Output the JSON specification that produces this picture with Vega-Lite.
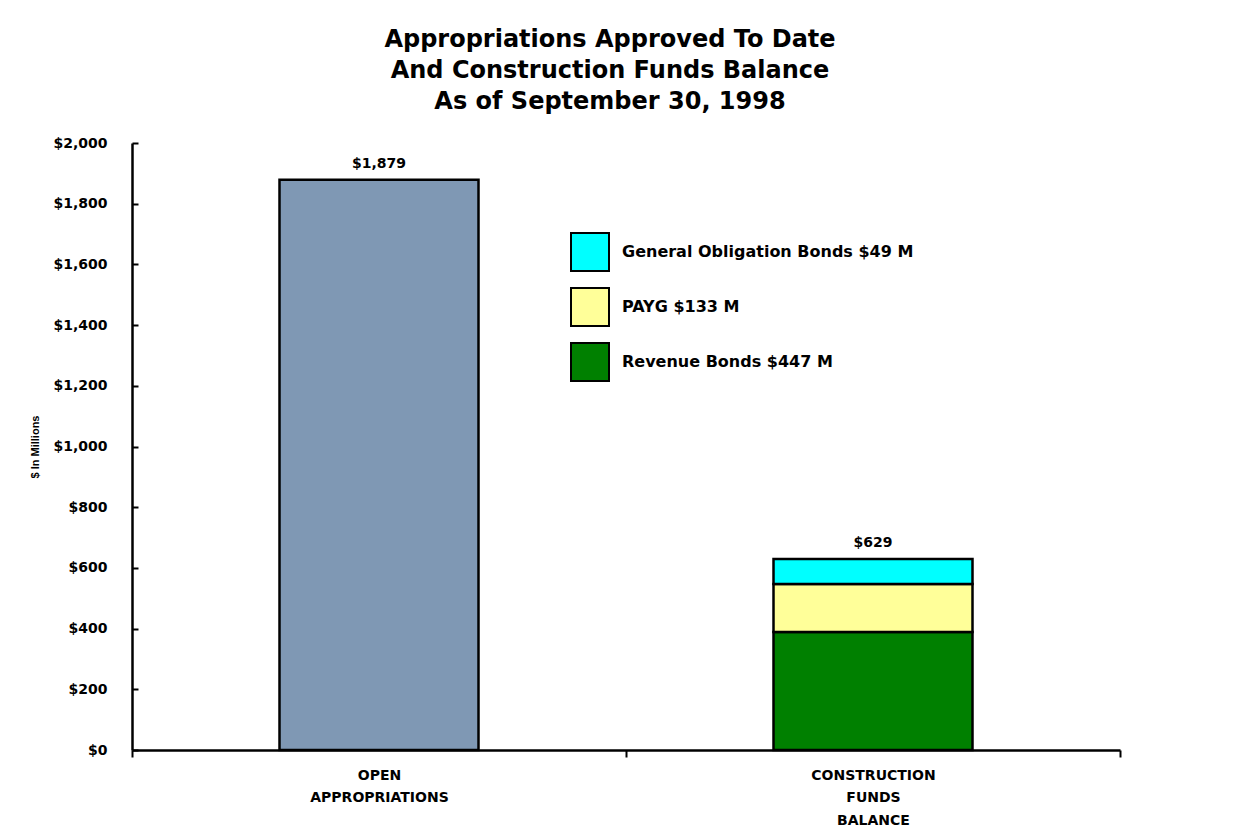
{
  "$schema": "https://vega.github.io/schema/vega-lite/v6.json",
  "width": 988,
  "height": 607,
  "autosize": {"type": "none"},
  "padding": {"left": 132, "top": 143, "right": 132, "bottom": 88},
  "background": "white",
  "config": {
    "view": {"stroke": null},
    "font": "DejaVu Sans"
  },
  "title": {
    "text": ["Appropriations Approved To Date", "And Construction Funds Balance", "As of September 30, 1998"],
    "font": "DejaVu Sans",
    "fontSize": 24,
    "fontWeight": "bold",
    "color": "black",
    "lineHeight": 31,
    "anchor": "middle",
    "dx": -16,
    "offset": 22
  },
  "data": {
    "values": [
      {"category": "OPEN|APPROPRIATIONS", "series": "Open Appropriations", "value": 1879, "order": 0},
      {"category": "CONSTRUCTION|FUNDS|BALANCE", "series": "Revenue Bonds $447 M", "value": 389, "order": 1},
      {"category": "CONSTRUCTION|FUNDS|BALANCE", "series": "PAYG $133 M", "value": 158, "order": 2},
      {"category": "CONSTRUCTION|FUNDS|BALANCE", "series": "General Obligation Bonds $49 M", "value": 82, "order": 3}
    ]
  },
  "encoding": {
    "x": {
      "field": "category",
      "type": "nominal",
      "sort": null,
      "scale": {"paddingInner": 0, "paddingOuter": 0},
      "axis": {
        "title": null,
        "labelAngle": 0,
        "labelExpr": "split(datum.label, '|')",
        "labelFont": "DejaVu Sans",
        "labelFontWeight": "bold",
        "labelFontSize": 14,
        "labelColor": "black",
        "labelLineHeight": 22.5,
        "labelBaseline": "top",
        "labelPadding": 11,
        "tickBand": "extent",
        "tickSize": 7,
        "tickWidth": 2,
        "tickColor": "black",
        "domainColor": "black",
        "domainWidth": 2.5
      }
    }
  },
  "layer": [
    {
      "mark": {"type": "bar", "width": 199, "stroke": "black", "strokeWidth": 2.5},
      "encoding": {
        "y": {
          "field": "value",
          "type": "quantitative",
          "stack": "zero",
          "scale": {"domain": [0, 2000]},
          "axis": {
            "title": "$ In Millions",
            "titleFont": "Liberation Sans",
            "titleFontSize": 11,
            "titleFontWeight": "bold",
            "titleColor": "black",
            "titlePadding": 12,
            "values": [0, 200, 400, 600, 800, 1000, 1200, 1400, 1600, 1800, 2000],
            "format": "$,.0f",
            "labelFont": "DejaVu Sans",
            "labelFontWeight": "bold",
            "labelFontSize": 14,
            "labelColor": "black",
            "labelPadding": 31,
            "tickSize": -6,
            "tickWidth": 2,
            "tickColor": "black",
            "domainColor": "black",
            "domainWidth": 2.5,
            "grid": false
          }
        },
        "color": {
          "field": "series",
          "type": "nominal",
          "scale": {
            "domain": ["Open Appropriations", "General Obligation Bonds $49 M", "PAYG $133 M", "Revenue Bonds $447 M"],
            "range": ["#7F98B4", "#00FFFF", "#FFFF99", "#008000"]
          },
          "legend": {
            "title": null,
            "values": ["General Obligation Bonds $49 M", "PAYG $133 M", "Revenue Bonds $447 M"],
            "orient": "none",
            "legendX": 438,
            "legendY": 89,
            "symbolType": "square",
            "symbolSize": 1444,
            "symbolStrokeColor": "black",
            "symbolStrokeWidth": 2,
            "symbolOpacity": 1,
            "rowPadding": 9,
            "labelOffset": 12,
            "labelFont": "DejaVu Sans",
            "labelFontWeight": "bold",
            "labelFontSize": 16,
            "labelColor": "black",
            "labelLimit": 400
          }
        },
        "order": {"field": "order", "type": "quantitative"}
      }
    },
    {
      "transform": [
        {"aggregate": [{"op": "sum", "field": "value", "as": "total"}], "groupby": ["category"]}
      ],
      "mark": {"type": "text", "baseline": "bottom", "dy": -9, "font": "DejaVu Sans", "fontWeight": "bold", "fontSize": 14, "color": "black"},
      "encoding": {
        "y": {"field": "total", "type": "quantitative"},
        "text": {"field": "total", "type": "quantitative", "format": "$,.0f"}
      }
    }
  ]
}
